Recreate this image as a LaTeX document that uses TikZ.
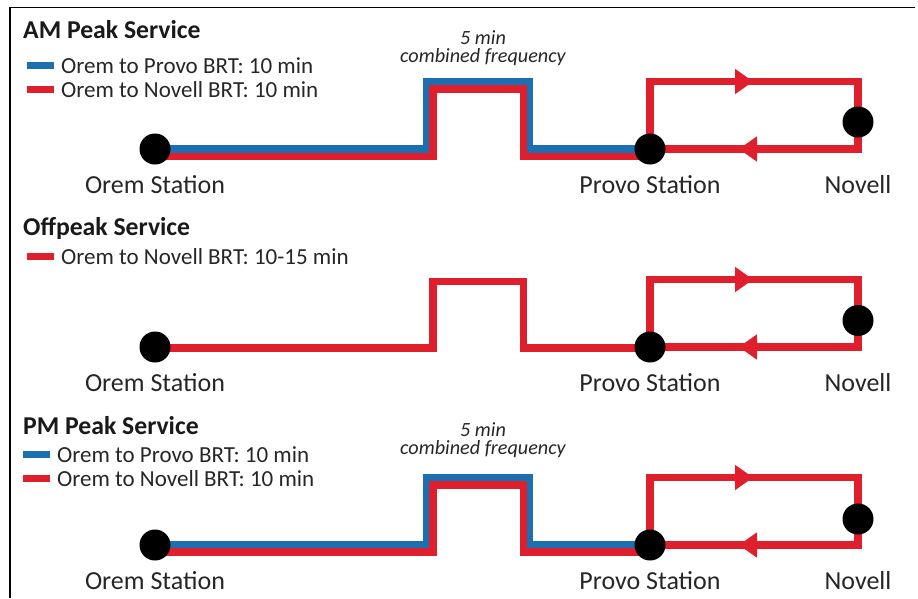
\documentclass[tikz,border=0pt]{standalone}
\usepackage{fontspec}
\setmainfont{Carlito}
\usetikzlibrary{arrows.meta,backgrounds}
\definecolor{routeblue}{HTML}{1C6FB0}
\definecolor{routered}{HTML}{E01F2D}
\tikzset{
    station/.style={circle,fill=black,minimum size=31pt,inner sep=0pt},
    blueroute/.style={routeblue,line width=7.5pt},
    redroute/.style={routered,line width=7.5pt},
    looptip/.style={routered,line width=2pt,-{Triangle[length=18pt,width=25pt]}},
    keyblue/.style={fill=routeblue,minimum width=27pt,minimum height=7pt,inner sep=0pt},
    keyred/.style={fill=routered,minimum width=27pt,minimum height=7pt,inner sep=0pt},
    title/.style={font=\fontsize{25.7}{28}\selectfont\bfseries,text=black!90,right,inner sep=0pt},
    keytext/.style={font=\fontsize{23}{26}\selectfont,text=black!85,right,inner sep=0pt},
    stationtext/.style={font=\fontsize{26}{28}\selectfont,text=black!85,inner sep=0pt},
    freqtext/.style={font=\fontsize{20.2}{17.5}\selectfont\itshape,text=black!85,align=center,inner sep=0pt}
}
\begin{document}
\begin{tikzpicture}[x=1pt,y=-1pt]
            \useasboundingbox (0,0) rectangle (918,598);
            \coordinate (frametop) at (915,7.5);
            \coordinate (framecorner) at (10,7.5);
            \coordinate (framebottom) at (10,598);
            \draw[line width=1.5pt] (frametop) -- (framecorner) -- (framebottom);
            % AM
            \begin{scope}
                \node[title] (amtitle) at (23,30) {AM Peak Service};
                \node[keyblue] (amkeyblue) at (40.5,65) {};
                \node[keytext] (amtextblue) at (61,65.5) {Orem to Provo BRT: 10 min};
                \node[keyred] (amkeyred) at (40.5,89.5) {};
                \node[keytext] (amtextred) at (61,89.5) {Orem to Novell BRT: 10 min};
                \node[freqtext] (amfreq) at (483,48) {5 min\\combined frequency};
                \node[station] (amorem) at (155,149) {};
                \node[station] (amprovo) at (650,149) {};
                \node[station] (amnovell) at (858,122) {};
                \node[stationtext] (amoremtext) at (155,185) {Orem Station};
                \node[stationtext] (amprovotext) at (650,185) {Provo Station};
                \node[stationtext] (amnovelltext) at (858,185) {Novell};
                \coordinate (amtipa) at (753,81.5);
                \coordinate (amtipb) at (739,149);
                \begin{scope}[on background layer]
                    % Tramo comun
                    \draw[blueroute] (amorem.center) -- (426.5,149) -- (426.5,81.5) -- (529.5,81.5) -- (529.5,149) -- (amprovo.center);
                    \draw[redroute] ([yshift=-7.5pt]amorem.center) -- (433,156.5) -- (433,89) -- (523.5,89) -- (523.5,156.5) -- ([yshift=-7.5pt]amprovo.center);
                    % Lazo
                    \draw[redroute] (amprovo.center) |- (amtipa) -| (amnovell.center) |- (amtipb) -- (amprovo.center);
                    \draw[looptip] ([xshift=-18pt]amtipa) -- (amtipa);
                    \draw[looptip] ([xshift=18pt]amtipb) -- (amtipb);
                \end{scope}
            \end{scope}
            % Offpeak
            \begin{scope}[yshift=-198pt]
                \node[title] (offtitle) at (23,30) {Offpeak Service};
                \node[keyred] (offkeyred) at (40.5,58) {};
                \node[keytext] (offtextred) at (61,58.5) {Orem to Novell BRT: 10-15 min};
                \node[station] (offorem) at (155,149) {};
                \node[station] (offprovo) at (650,149) {};
                \node[station] (offnovell) at (858,122.5) {};
                \node[stationtext] (offoremtext) at (155,185) {Orem Station};
                \node[stationtext] (offprovotext) at (650,185) {Provo Station};
                \node[stationtext] (offnovelltext) at (858,185) {Novell};
                \coordinate (offtipa) at (753,81.5);
                \coordinate (offtipb) at (739,149);
                \begin{scope}[on background layer]
                    \draw[redroute] ([yshift=-1pt]offorem.center) -- (433,150) -- (433,83.5) -- (523.5,83.5) -- (523.5,150) -- ([yshift=-1pt]offprovo.center);
                    \draw[redroute] (offprovo.center) |- (offtipa) -| (offnovell.center) |- (offtipb) -- (offprovo.center);
                    \draw[looptip] ([xshift=-18pt]offtipa) -- (offtipa);
                    \draw[looptip] ([xshift=18pt]offtipb) -- (offtipb);
                \end{scope}
            \end{scope}
            % PM
            \begin{scope}[yshift=-396pt]
                \node[title] (pmtitle) at (23,30) {PM Peak Service};
                \node[keyblue] (pmkeyblue) at (36.5,58.5) {};
                \node[keytext] (pmtextblue) at (57,59) {Orem to Provo BRT: 10 min};
                \node[keyred] (pmkeyred) at (36.5,82.5) {};
                \node[keytext] (pmtextred) at (57,83) {Orem to Novell BRT: 10 min};
                \node[freqtext] (pmfreq) at (483,44) {5 min\\combined frequency};
                \node[station] (pmorem) at (155,149) {};
                \node[station] (pmprovo) at (650,149) {};
                \node[station] (pmnovell) at (858,123) {};
                \node[stationtext] (pmoremtext) at (155,185) {Orem Station};
                \node[stationtext] (pmprovotext) at (650,185) {Provo Station};
                \node[stationtext] (pmnovelltext) at (858,185) {Novell};
                \coordinate (pmtipa) at (753,81.5);
                \coordinate (pmtipb) at (739,149);
                \begin{scope}[on background layer]
                    \draw[blueroute] (pmorem.center) -- (426.5,149) -- (426.5,81.5) -- (529.5,81.5) -- (529.5,149) -- (pmprovo.center);
                    \draw[redroute] ([yshift=-7pt]pmorem.center) -- (433,156) -- (433,89) -- (523.5,89) -- (523.5,156) -- ([yshift=-7pt]pmprovo.center);
                    \draw[redroute] (pmprovo.center) |- (pmtipa) -| (pmnovell.center) |- (pmtipb) -- (pmprovo.center);
                    \draw[looptip] ([xshift=-18pt]pmtipa) -- (pmtipa);
                    \draw[looptip] ([xshift=18pt]pmtipb) -- (pmtipb);
                \end{scope}
            \end{scope}
        \end{tikzpicture}
\end{document}
